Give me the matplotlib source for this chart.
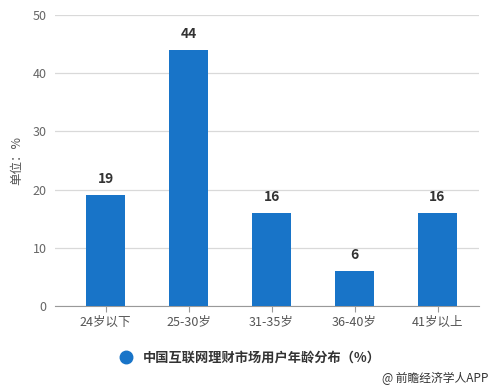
import matplotlib
matplotlib.use("Agg")
import matplotlib.pyplot as plt
from matplotlib.lines import Line2D

plt.rcParams['font.family'] = ['Noto Sans CJK SC', 'DejaVu Sans']

categories = ["24岁以下", "25-30岁", "31-35岁", "36-40岁", "41岁以上"]
values = [19, 44, 16, 6, 16]
yticks = [0, 10, 20, 30, 40, 50]
series_name = "中国互联网理财市场用户年龄分布（%）"
ylabel = "单位：%"
source = "@ 前瞻经济学人APP"

bar_color = "#1874c8"

fig = plt.figure(figsize=(4.94, 3.89), dpi=100)
ax = fig.add_axes([55/494, 1-306/389, (479-55)/494, (306-15)/389])

x = list(range(len(categories)))
ax.bar(x, values, width=0.47, color=bar_color, zorder=3)
for xi, v in zip(x, values):
    ax.text(xi, v + 1.6, str(v), ha='center', va='bottom', fontsize=10,
            fontweight='bold', color='#333333', zorder=4)

ax.set_xlim(-0.61, 4.50)
ax.set_ylim(0, 50)
ax.set_yticks(yticks)
ax.set_xticks(x)
ax.set_xticklabels(categories)
ax.grid(axis='y', color='#d9d9d9', linewidth=0.9, zorder=0)
for s in ['top', 'right', 'left']:
    ax.spines[s].set_visible(False)
ax.spines['bottom'].set_color('#999999')
ax.tick_params(axis='y', length=0, labelsize=9, colors='#666666', pad=6)
ax.tick_params(axis='x', length=4, color='#999999', labelsize=9, labelcolor='#555555', pad=3)
ax.set_ylabel(ylabel, fontsize=9, color='#555555', labelpad=7)

handle = Line2D([], [], marker='o', linestyle='none', markersize=9,
                markerfacecolor=bar_color, markeredgecolor=bar_color)
fig.legend([handle], [series_name], loc='center', bbox_to_anchor=(0.5, 1-358/389),
           frameon=False, prop={'size': 9.5, 'weight': 'bold'}, handletextpad=0.3,
           labelcolor='#333333')
fig.text(488/494, 1-378/389, source, ha='right', va='center', fontsize=8.5, color='#333333')

fig.savefig("out.png", dpi=100)
